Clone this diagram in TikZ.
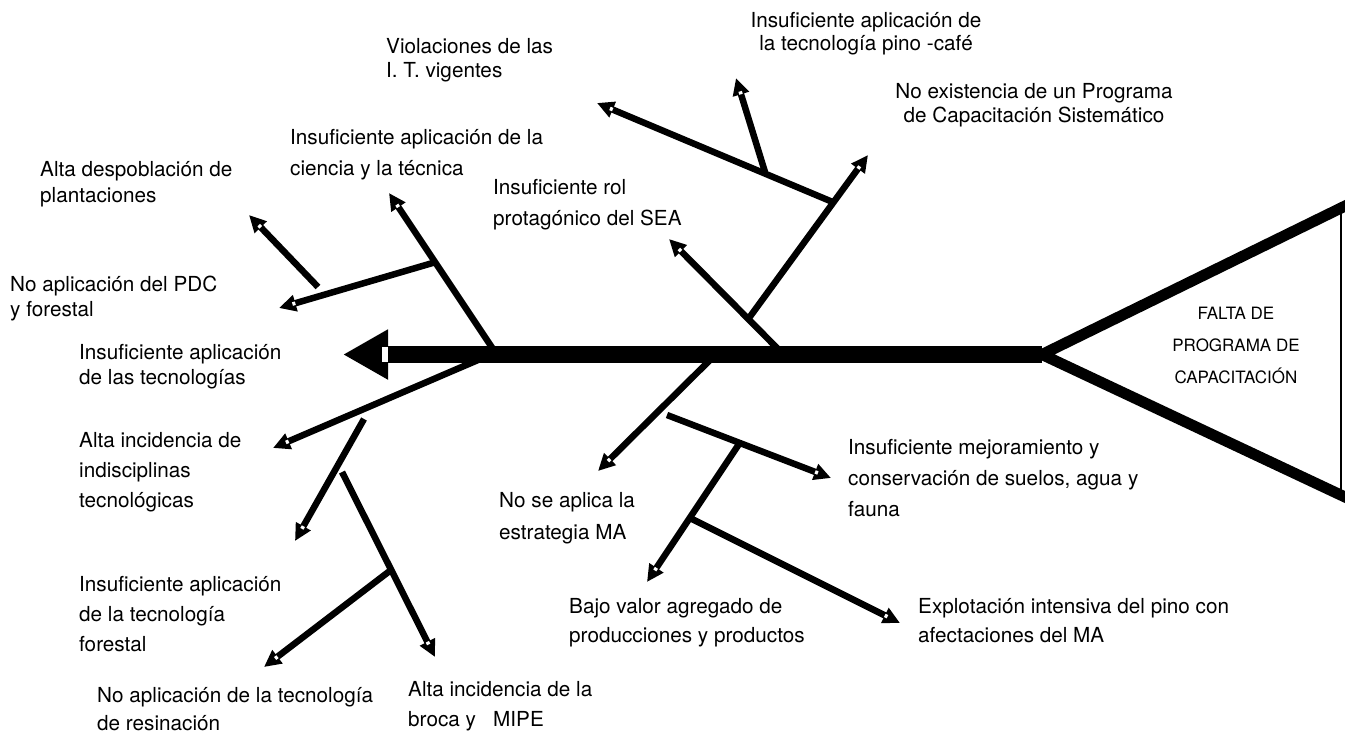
\documentclass[tikz,border=0pt]{standalone}
\usepackage{fontspec}
\setmainfont{TeX Gyre Heros}
\usetikzlibrary{arrows.meta,decorations.markings}
\begin{document}
\begin{tikzpicture}[x=1pt,y=-1pt,
  lbl/.style={font=\fontsize{20.7}{30}\selectfont, align=left, inner sep=0pt, anchor=base west},
  clbl/.style={lbl, align=center, anchor=base},
  br/.style={line width=6.5pt, -{Triangle[length=17pt,width=16pt]},
    postaction={decorate, decoration={markings,
      mark=at position -17pt with {\fill[white] (0pt,-1.8pt) rectangle (3pt,1.8pt);}}}},
  spine/.style={line width=17pt, -{Triangle[length=45pt,width=47pt]},
    postaction={decorate, decoration={markings,
      mark=at position -45pt with {\fill[white] (0pt,-7.3pt) rectangle (6.5pt,7.3pt);}}}},
  head/.style={line width=11pt, line join=miter},
]
\useasboundingbox (0,0) rectangle (1345,734);
\clip (0,0) rectangle (1345,734);

% coordinates
\coordinate (tv) at (1042,354.5);
\coordinate (bigtip) at (343,354.5);
\coordinate (hTop) at (1352,202.6);
\coordinate (hBot) at (1352,500.3);
\coordinate (rTop) at (1341,204);
\coordinate (rBot) at (1341,499);
\coordinate (aS) at (495,352);  \coordinate (aT) at (389,193);
\coordinate (a1) at (436,262);  \coordinate (a1T) at (279,308);
\coordinate (a2S) at (318,287); \coordinate (a2T) at (249,215);
\coordinate (bS) at (781,352);  \coordinate (bT) at (669,239);
\coordinate (b1) at (749,318);  \coordinate (b1T) at (868,155);
\coordinate (b2) at (835,203);  \coordinate (b2T) at (597,103);
\coordinate (b3) at (765,172);  \coordinate (b3T) at (736,78);
\coordinate (cS) at (478,360);  \coordinate (cT) at (273,448);
\coordinate (c1S) at (364,419); \coordinate (c1T) at (295,541);
\coordinate (c2S) at (342,472); \coordinate (c2T) at (435,657);
\coordinate (c3) at (391,570);  \coordinate (c3T) at (264,667);
\coordinate (dS) at (712,358);  \coordinate (dT) at (598,471);
\coordinate (d1S) at (667,415); \coordinate (d1T) at (831,478);
\coordinate (d2) at (739,444);  \coordinate (d2T) at (647,582);
\coordinate (d3) at (690,518);  \coordinate (d3T) at (900,623);

% head (effect)
\draw[head] (hTop) -- (tv) -- (hBot);
\draw[line width=2.5pt] (rTop) -- (rBot);
\node[clbl, font=\fontsize{17}{32}\selectfont] (effect) at (1236,383)
  {FALTA DE\\PROGRAMA DE\\CAPACITACIÓN};

% spine
\draw[spine] (tv) -- (bigtip);

% branches
\draw[br] (aS) -- (aT);
\draw[br] (a1) -- (a1T);
\draw[br] (a2S) -- (a2T);
\draw[br] (bS) -- (bT);
\draw[br] (b1) -- (b1T);
\draw[br] (b2) -- (b2T);
\draw[br] (b3) -- (b3T);
\draw[br] (cS) -- (cT);
\draw[br] (c1S) -- (c1T);
\draw[br] (c2S) -- (c2T);
\draw[br] (c3) -- (c3T);
\draw[br] (dS) -- (dT);
\draw[br] (d1S) -- (d1T);
\draw[br] (d2) -- (d2T);
\draw[br] (d3) -- (d3T);

% labels (positions are the baseline of the last line)
\node[clbl, font=\fontsize{20.7}{23}\selectfont] (t1) at (866,50) {Insuficiente aplicación de\\la tecnología pino -café};
\node[lbl, font=\fontsize{20.7}{24}\selectfont] (t2) at (386,77) {Violaciones de las\\I. T. vigentes};
\node[clbl, font=\fontsize{20.7}{24}\selectfont] (t3) at (1034,122) {No existencia de un Programa\\de Capacitación Sistemático};
\node[lbl, font=\fontsize{20.7}{31}\selectfont] (t4) at (290,175) {Insuficiente aplicación de la\\ciencia y la técnica};
\node[lbl, font=\fontsize{20.7}{26}\selectfont] (t5) at (40,202) {Alta despoblación de\\plantaciones};
\node[lbl, font=\fontsize{20.7}{31}\selectfont] (t6) at (493,225) {Insuficiente rol\\protagónico del SEA};
\node[lbl, font=\fontsize{20.7}{25}\selectfont] (t7) at (10,316) {No aplicación del PDC\\y forestal};
\node[lbl, font=\fontsize{20.7}{25}\selectfont] (t8) at (79,384) {Insuficiente aplicación\\de las tecnologías};
\node[lbl] (t9) at (79,507) {Alta incidencia de\\indisciplinas\\tecnológicas};
\node[lbl] (t10) at (79,651) {Insuficiente aplicación\\de la tecnología\\forestal};
\node[lbl, font=\fontsize{20.7}{28}\selectfont] (t11) at (97,730) {No aplicación de la tecnología\\de resinación};
\node[lbl] (t12) at (408,726) {Alta incidencia de la\\broca y \ \ MIPE};
\node[lbl, font=\fontsize{20.7}{32}\selectfont] (t13) at (499,539) {No se aplica la\\estrategia MA};
\node[lbl, font=\fontsize{20.7}{29}\selectfont] (t14) at (569,642) {Bajo valor agregado de\\producciones y productos};
\node[lbl, font=\fontsize{20.7}{31}\selectfont] (t15) at (848,516) {Insuficiente mejoramiento y\\conservación de suelos, agua y\\fauna};
\node[lbl, font=\fontsize{20.7}{29}\selectfont] (t16) at (918,642) {Explotación intensiva del pino con\\afectaciones del MA};
\end{tikzpicture}
\end{document}
